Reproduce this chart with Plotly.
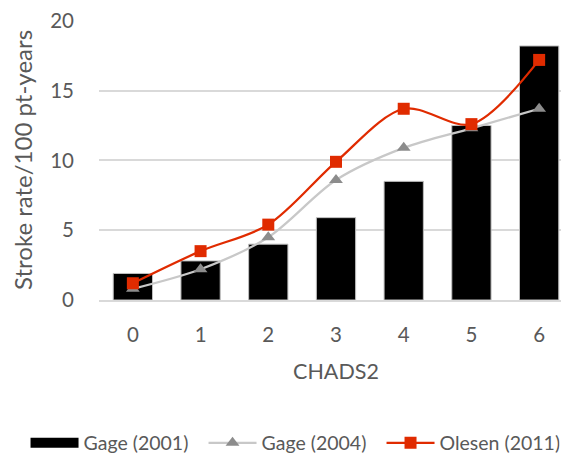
import plotly.graph_objects as go

categories = ["0", "1", "2", "3", "4", "5", "6"]
gage2001 = [1.9, 2.8, 4.0, 5.9, 8.5, 12.5, 18.2]
gage2004 = [0.8, 2.2, 4.5, 8.6, 10.9, 12.3, 13.7]
olesen2011 = [1.2, 3.5, 5.4, 9.9, 13.7, 12.6, 17.2]
y_ticks = [0, 5, 10, 15, 20]

FONT = "Lato"
TXT = "#595959"

fig = go.Figure()
fig.add_trace(go.Bar(
    x=categories, y=gage2001, name="Gage (2001)", showlegend=False,
    marker=dict(color="black", line=dict(color="#bfbfbf", width=1)),
))
# legend entry for the bars (wide black rectangle)
fig.add_trace(go.Scatter(
    x=[None], y=[None], mode="lines", name="Gage (2001)",
    line=dict(color="black", width=12),
))
fig.add_trace(go.Scatter(
    x=categories, y=gage2004, name="Gage (2004)", mode="lines+markers",
    line=dict(color="#c8c8c8", width=2.25, shape="spline", smoothing=0.9),
    marker=dict(symbol="triangle-up", size=12, color="#8c8c8c"),
))
fig.add_trace(go.Scatter(
    x=categories, y=olesen2011, name="Olesen (2011)", mode="lines+markers",
    line=dict(color="#e02b00", width=2.25, shape="spline", smoothing=0.9),
    marker=dict(symbol="square", size=12, color="#e02b00"),
))

# page body has an 8px margin, so the figure is offset by 8px
fig.update_layout(
    width=569, height=460,
    margin=dict(l=91, r=4, t=12, b=168, autoexpand=False),
    plot_bgcolor="white", paper_bgcolor="white",
    font=dict(family=FONT, color=TXT, size=20),
    bargap=0.42,
    showlegend=True,
    legend=dict(
        orientation="h", x=-0.155, xanchor="left", y=-0.511, yanchor="middle",
        font=dict(size=19.5, color=TXT), itemwidth=48, tracegroupgap=0,
        entrywidth=115, entrywidthmode="pixels",
        bgcolor="rgba(0,0,0,0)",
    ),
)
fig.update_xaxes(
    type="category", range=[-0.5, 6.5], showgrid=False, showline=True,
    linecolor="#d9d9d9", linewidth=1.5, ticks="", ticklabelstandoff=16,
    tickfont=dict(size=20.5, color=TXT), automargin=False,
    title=dict(text="CHADS2", font=dict(size=21.5, color=TXT), standoff=19),
)
fig.update_yaxes(
    range=[0, 20.06], tickvals=y_ticks, showgrid=True, gridcolor="#d9d9d9",
    gridwidth=1.5, zeroline=False, showline=False, ticks="", automargin=False,
    ticklabelstandoff=24, tickfont=dict(size=20.5, color=TXT),
    ticklabeloverflow="allow",
    title=dict(text="Stroke rate/100 pt-years", font=dict(size=24, color=TXT), standoff=13),
)

fig.write_html("out.html")
